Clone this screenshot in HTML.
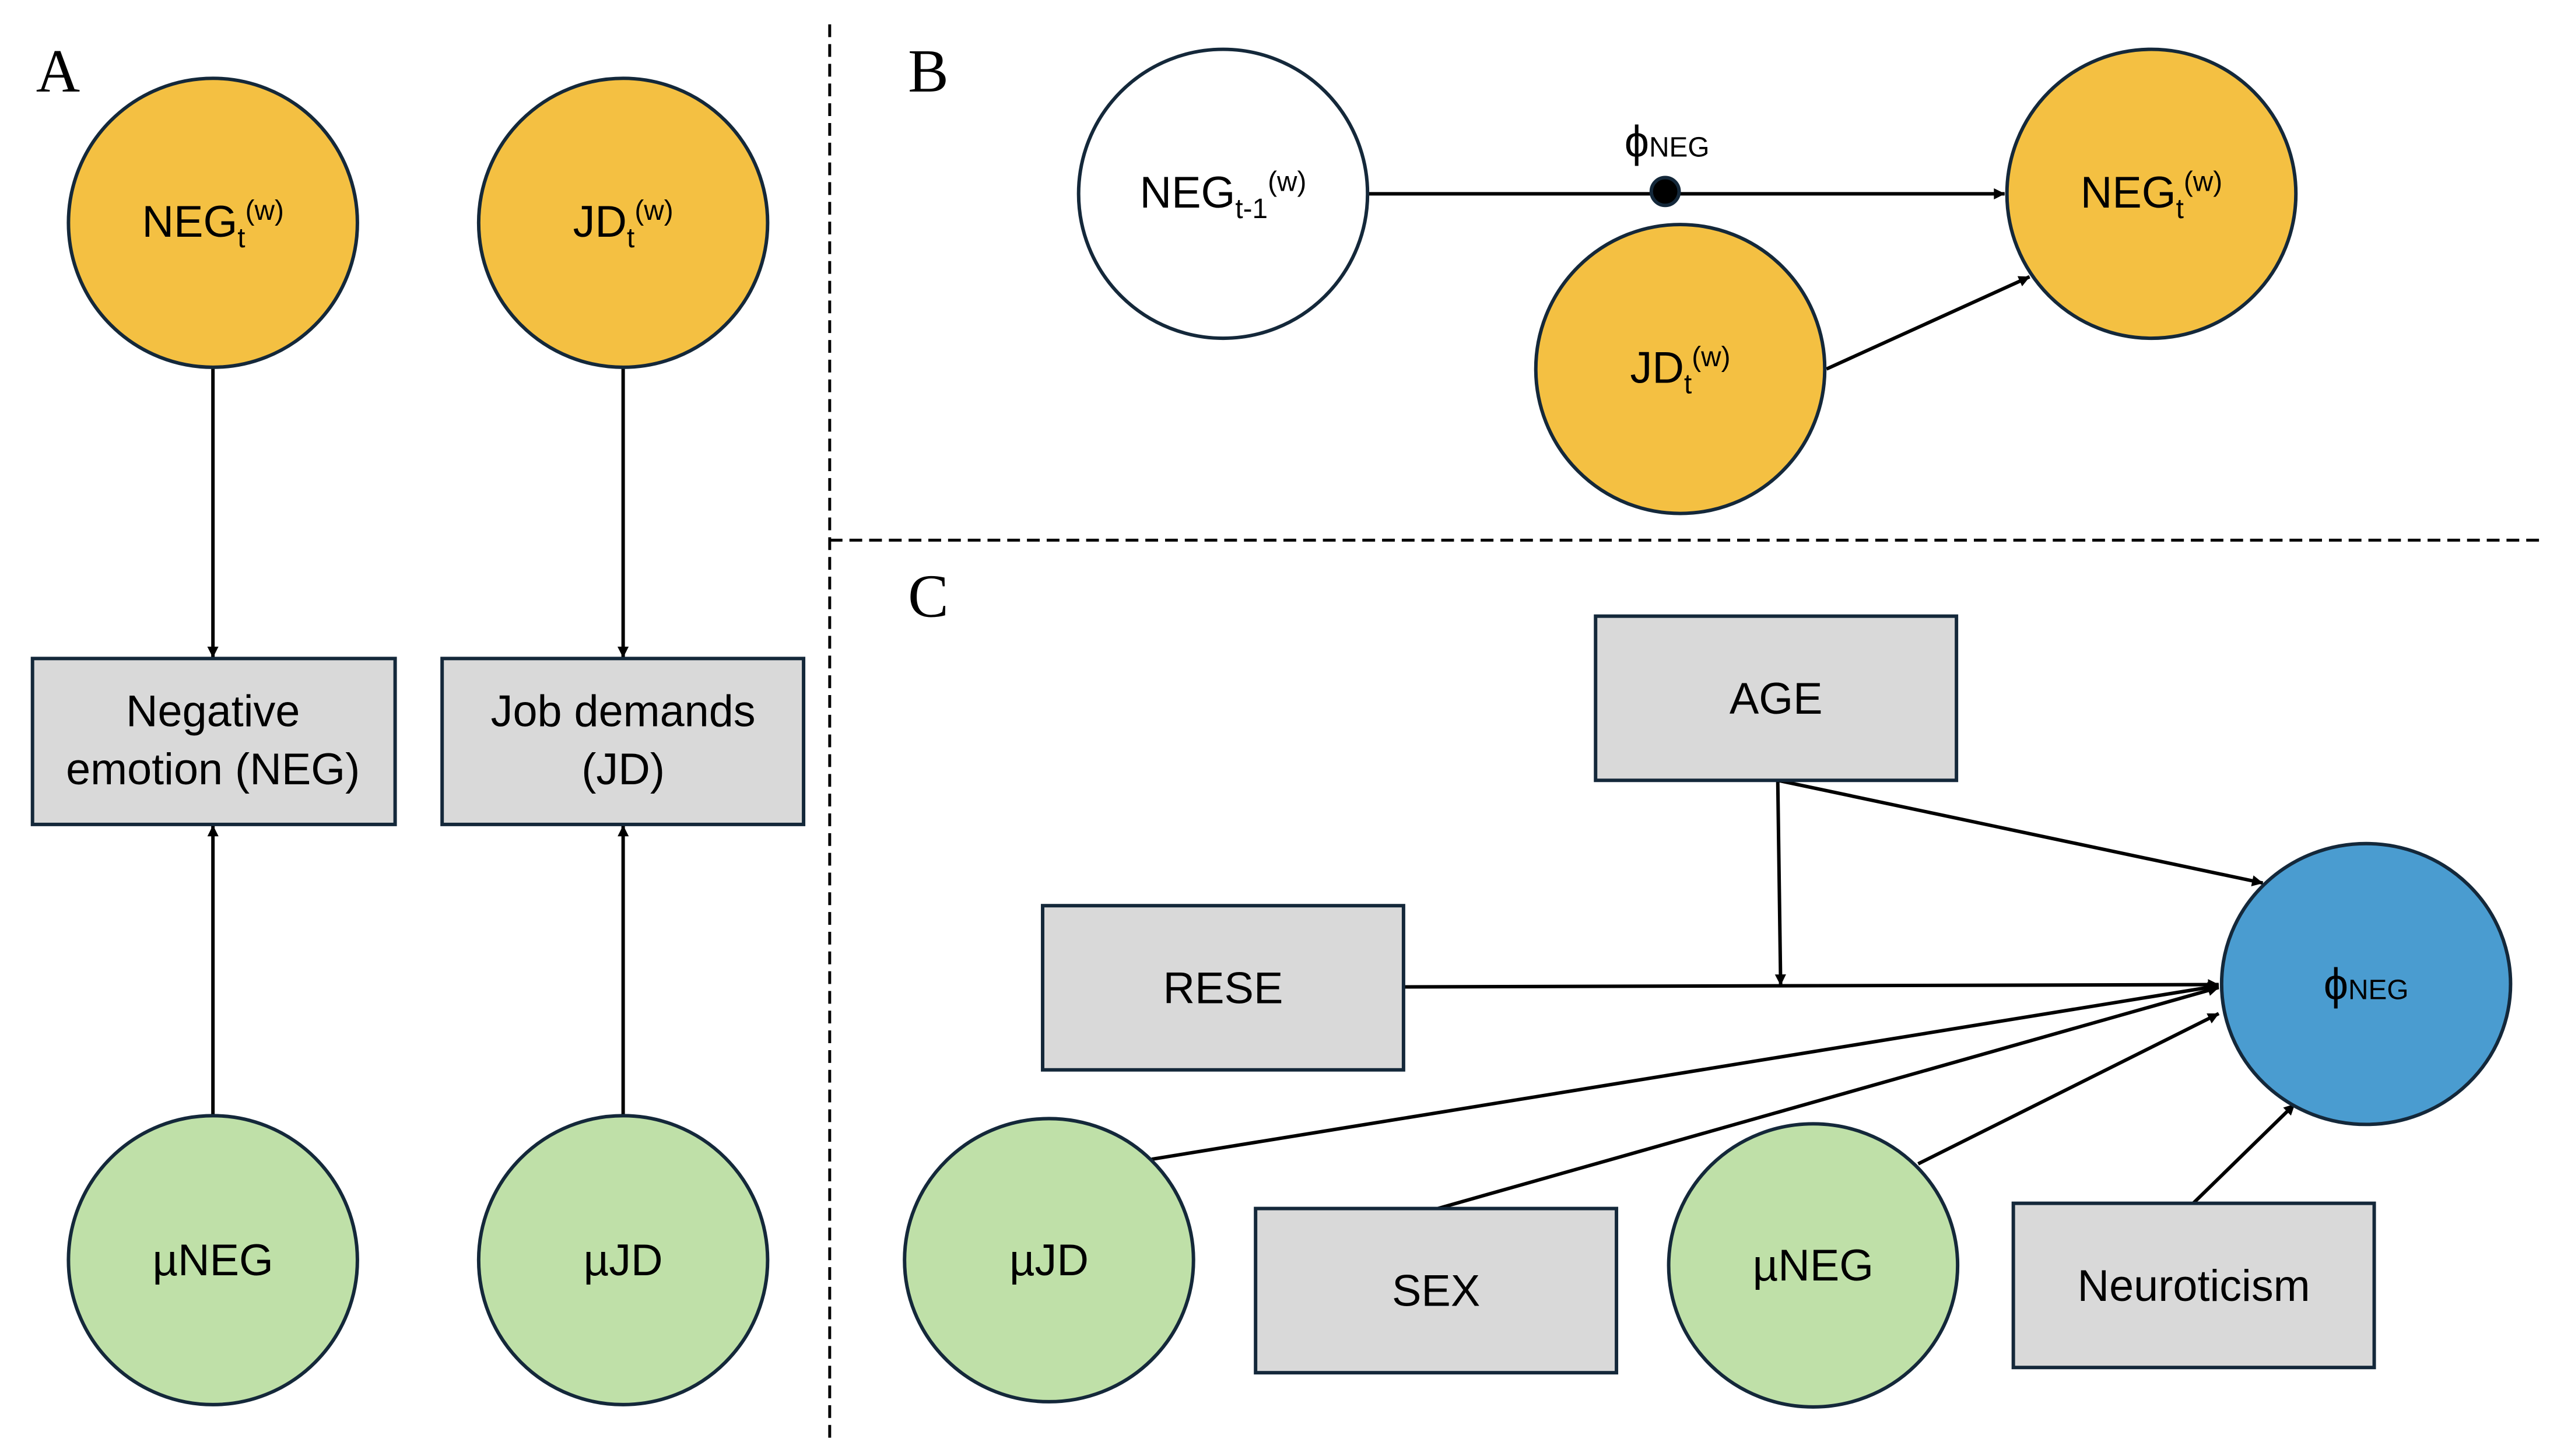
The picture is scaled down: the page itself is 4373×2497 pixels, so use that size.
<!DOCTYPE html>
<html><head><meta charset="utf-8"><style>
html,body{margin:0;padding:0;background:#fff}
svg{display:block}
text{font-family:"Liberation Sans",sans-serif;fill:#000}
.l{font-family:"Liberation Serif",serif;font-size:105px}
</style></head><body>
<svg width="4373" height="2497" viewBox="0 0 4373 2497" xmlns="http://www.w3.org/2000/svg">
<defs>
<marker id="a" viewBox="0 0 10 10" refX="10" refY="5" markerWidth="6" markerHeight="6" markerUnits="userSpaceOnUse" orient="auto" style="overflow:visible">
<path d="M0,0 L10,5 L0,10 z" fill="#000" transform="scale(3.2) translate(-6.5,-3.4)"/>
</marker>
</defs>
<g transform="scale(0.995)">
<g stroke="#000" stroke-width="5" stroke-dasharray="22,12" fill="none">
<line x1="1430" y1="42" x2="1430" y2="2480"/>
<line x1="1430" y1="931" x2="4380" y2="931"/>
</g>
<text class="l" x="62" y="158">A</text>
<text class="l" x="1565" y="158">B</text>
<text class="l" x="1565" y="1063">C</text>
<g stroke="#000" stroke-width="6" fill="none" marker-end="url(#a)">
<line x1="367" y1="634" x2="367" y2="1133"/>
<line x1="1074" y1="634" x2="1074" y2="1133"/>
<line x1="367" y1="1923" x2="367" y2="1423"/>
<line x1="1074" y1="1923" x2="1074" y2="1423"/>
<line x1="2358" y1="334" x2="3455" y2="334"/>
<line x1="3148" y1="636" x2="3498" y2="477"/>
<line x1="3064" y1="1345" x2="3069" y2="1698"/>
<line x1="3064" y1="1345" x2="3900" y2="1522"/>
<line x1="2419" y1="1701" x2="3824" y2="1697"/>
<line x1="1985" y1="1998" x2="3824" y2="1699"/>
<line x1="2478" y1="2083" x2="3824" y2="1702"/>
<line x1="3306" y1="2006" x2="3824" y2="1747"/>
<line x1="3780" y1="2074" x2="3955" y2="1903"/>
</g>
<g stroke="#14283a" stroke-width="6">
<circle cx="367" cy="384" r="249" fill="#F4C042"/>
<circle cx="1074" cy="384" r="249" fill="#F4C042"/>
<rect x="56" y="1135" width="625" height="286" fill="#D9D9D9"/>
<rect x="762" y="1135" width="623" height="286" fill="#D9D9D9"/>
<circle cx="367" cy="2172" r="249" fill="#BFE0A8"/>
<circle cx="1074" cy="2172" r="249" fill="#BFE0A8"/>
<circle cx="2108" cy="334" r="249" fill="#fff"/>
<circle cx="3708" cy="334" r="249" fill="#F4C042"/>
<circle cx="2896" cy="636" r="249" fill="#F4C042"/>
<circle cx="2870" cy="330" r="24" fill="#000"/>
<rect x="2750" y="1062" width="622" height="283" fill="#D9D9D9"/>
<rect x="1797" y="1561" width="622" height="283" fill="#D9D9D9"/>
<ellipse cx="4078" cy="1696" rx="249" ry="242" fill="#4A9CD0"/>
<ellipse cx="1808" cy="2172" rx="249" ry="244" fill="#BFE0A8"/>
<rect x="2164" y="2083" width="622" height="283" fill="#D9D9D9"/>
<ellipse cx="3125" cy="2181" rx="249" ry="244" fill="#BFE0A8"/>
<rect x="3470" y="2074" width="622" height="283" fill="#D9D9D9"/>
</g>
<g font-size="76" text-anchor="middle">
<text x="367" y="408">NEG<tspan font-size="48" dy="18">t</tspan><tspan font-size="48" dy="-47">(w)</tspan></text>
<text x="1074" y="408">JD<tspan font-size="48" dy="18">t</tspan><tspan font-size="48" dy="-47">(w)</tspan></text>
<text x="367" y="1252">Negative</text>
<text x="367" y="1352">emotion (NEG)</text>
<text x="1074" y="1252">Job demands</text>
<text x="1074" y="1352">(JD)</text>
<text x="367" y="2198">µNEG</text>
<text x="1074" y="2198">µJD</text>
<text x="2108" y="358">NEG<tspan font-size="48" dy="18">t-1</tspan><tspan font-size="48" dy="-47">(w)</tspan></text>
<text x="3708" y="358">NEG<tspan font-size="48" dy="18">t</tspan><tspan font-size="48" dy="-47">(w)</tspan></text>
<text x="2896" y="660">JD<tspan font-size="48" dy="18">t</tspan><tspan font-size="48" dy="-47">(w)</tspan></text>
<text x="2873" y="270" fill="#101830">ϕ<tspan font-size="48">NEG</tspan></text>
<text x="3061" y="1230">AGE</text>
<text x="2108" y="1729">RESE</text>
<text x="4078" y="1722">ϕ<tspan font-size="48">NEG</tspan></text>
<text x="1808" y="2198">µJD</text>
<text x="2475" y="2251">SEX</text>
<text x="3125" y="2207">µNEG</text>
<text x="3781" y="2242">Neuroticism</text>
</g>
</g>
</svg>
</body></html>
